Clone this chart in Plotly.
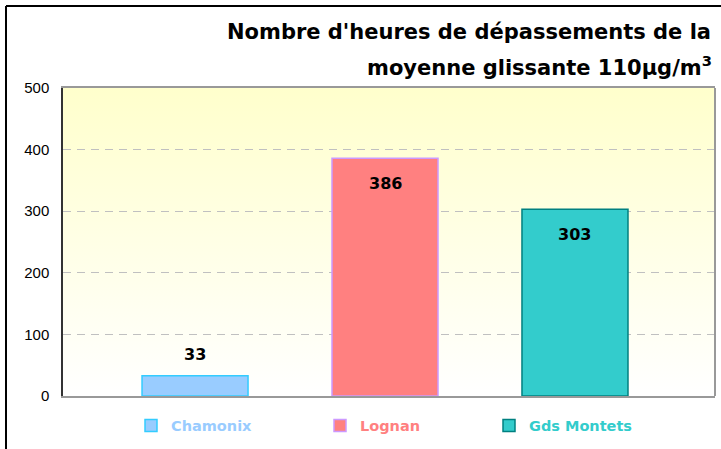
import base64
import plotly.graph_objects as go

# ---- data ----
stations = ["Chamonix", "Lognan", "Gds Montets"]
hours = [33, 386, 303]
fill_colors = ["#99CCFF", "#FF8080", "#33CCCC"]
line_colors = ["#33CCFF", "#CC99FF", "#008080"]
legend_text_colors = ["#99CCFF", "#FF8080", "#33CCCC"]
y_ticks = [0, 100, 200, 300, 400, 500]
title_lines = ["Nombre d'heures de dépassements de la",
               "moyenne glissante 110µg/m<sup>3</sup>"]

W, H = 721, 449
ML, MR, MT, MB = 63, 6, 88, 53
PW, PH = W - ML - MR, H - MT - MB


def px_x(p):
    return (p - ML) / PW


def px_y(p):
    return (H - MB - p) / PH


fig = go.Figure()
legend_names = ["legend", "legend2", "legend3"]
for i, (name, val) in enumerate(zip(stations, hours)):
    fig.add_trace(go.Bar(
        x=[name], y=[val], name=name, width=0.558,
        marker=dict(color=fill_colors[i], line=dict(color=line_colors[i], width=1.5)),
        legend=legend_names[i], hoverinfo="x+y",
    ))

# data labels
for name, val in zip(stations, hours):
    inside = val > 100
    fig.add_annotation(
        x=name, y=val, xref="x", yref="y", text=f"<b>{val}</b>", showarrow=False,
        yshift=-25 if inside else 21, yanchor="middle",
        font=dict(family="DejaVu Sans", size=16, color="black"),
    )

# title
fig.add_annotation(x=px_x(713), y=px_y(32), xref="paper", yref="paper",
                   text=f"<b>{title_lines[0]}</b>", showarrow=False,
                   xanchor="right", yanchor="middle",
                   font=dict(family="DejaVu Sans", size=21, color="black"))
fig.add_annotation(x=px_x(714), y=px_y(66), xref="paper", yref="paper",
                   text=f"<b>{title_lines[1]}</b>", showarrow=False,
                   xanchor="right", yanchor="middle",
                   font=dict(family="DejaVu Sans", size=21, color="black"))

# gradient background
svg = ('<svg xmlns="http://www.w3.org/2000/svg" width="100" height="100" preserveAspectRatio="none">'
       '<defs><linearGradient id="g" x1="0" y1="0" x2="0" y2="1">'
       '<stop offset="0" stop-color="#FFFFCC"/><stop offset="1" stop-color="#FFFFFF"/>'
       '</linearGradient></defs><rect width="100" height="100" fill="url(#g)"/></svg>')
src = "data:image/svg+xml;base64," + base64.b64encode(svg.encode()).decode()
fig.add_layout_image(source=src, xref="paper", yref="paper", x=0, y=1, sizex=1, sizey=1,
                     sizing="stretch", layer="below", xanchor="left", yanchor="top")

# borders
fig.add_shape(type="line", xref="paper", yref="paper", x0=1, x1=1, y0=0, y1=1,
              line=dict(color="#999999", width=2))
fig.add_shape(type="line", xref="paper", yref="paper", x0=px_x(6), x1=px_x(6),
              y0=px_y(H + 5), y1=px_y(6), line=dict(color="black", width=2))
fig.add_shape(type="line", xref="paper", yref="paper", x0=px_x(6), x1=px_x(W + 5),
              y0=px_y(6), y1=px_y(6), line=dict(color="black", width=2))

legend_text_x = [171, 360, 529]
layout_legends = {}
for i, ln in enumerate(legend_names):
    layout_legends[ln] = dict(
        x=px_x(legend_text_x[i] - 40), y=px_y(425.5), xanchor="left", yanchor="middle",
        orientation="h", bgcolor="rgba(0,0,0,0)", borderwidth=0,
        font=dict(family="DejaVu Sans", size=14.5, color=legend_text_colors[i], weight="bold"),
    )

fig.update_layout(
    width=W, height=H, margin=dict(l=ML, r=MR, t=MT, b=MB),
    paper_bgcolor="white", plot_bgcolor="rgba(0,0,0,0)",
    barmode="overlay", showlegend=True,
    xaxis=dict(type="category", categoryorder="array", categoryarray=stations,
               range=[-0.695, 2.737], showticklabels=False, showgrid=False,
               showline=True, linecolor="#999999", linewidth=2, mirror=True,
               zeroline=False, fixedrange=True),
    yaxis=dict(range=[0, 500], tickvals=y_ticks, showgrid=True, gridcolor="#C0C0C0",
               griddash="8px,6px", gridwidth=1, showline=True, linecolor="#333333",
               linewidth=1.5, zeroline=False, ticks="outside", ticklen=9,
               tickcolor="rgba(0,0,0,0)",
               tickfont=dict(family="Liberation Sans", size=15, color="black"),
               fixedrange=True),
    **layout_legends,
)

fig.write_html("out.html", config={"displayModeBar": False},
               post_script="document.body.style.margin='0';document.body.style.overflow='hidden';")
